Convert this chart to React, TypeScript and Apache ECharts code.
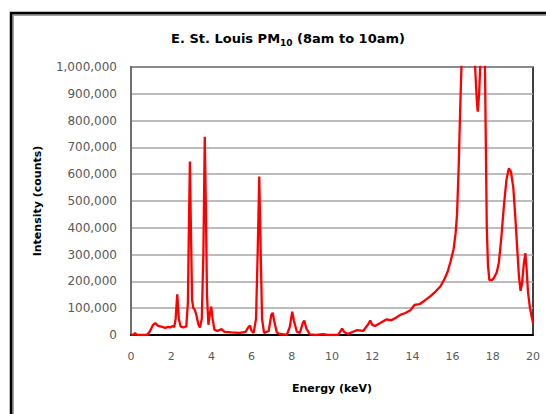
import React, { useEffect, useRef } from "react";
import * as echarts from "echarts";

const energyKeV = [
  0, 0.15, 0.2, 0.25, 0.35, 0.8, 0.95, 1.1, 1.2, 1.35, 1.55, 1.7, 1.85, 1.95, 2.05, 2.15,
  2.22, 2.3, 2.38, 2.47, 2.6, 2.75, 2.83, 2.88, 2.93, 2.98, 3.04, 3.1, 3.17, 3.25, 3.35, 3.43,
  3.52, 3.6, 3.67, 3.72, 3.78, 3.85, 3.93, 3.99, 4.06, 4.15, 4.3, 4.5, 4.65, 5.0, 5.4, 5.7,
  5.85, 5.92, 6.0, 6.1, 6.22, 6.3, 6.38, 6.45, 6.52, 6.62, 6.85, 6.98, 7.05, 7.13, 7.25, 7.35,
  7.75, 7.9, 8.02, 8.1, 8.25, 8.4, 8.55, 8.62, 8.72, 8.9, 9.2, 9.55, 9.8, 10.3, 10.5, 10.62,
  10.8, 11.05, 11.25, 11.55, 11.8, 11.9, 12.0, 12.14, 12.4, 12.7, 12.95, 13.2, 13.4, 13.65, 13.9, 14.1,
  14.35, 14.6, 14.9, 15.15, 15.4, 15.6, 15.75, 15.9, 16.05, 16.15, 16.22, 16.3, 16.38, 16.46, 16.6, 16.8,
  17.0, 17.12, 17.2, 17.25, 17.32, 17.4, 17.5, 17.58, 17.64, 17.7, 17.76, 17.83, 17.95, 18.05, 18.2, 18.3,
  18.42, 18.55, 18.68, 18.8, 18.9, 19.02, 19.12, 19.2, 19.3, 19.38, 19.45, 19.55, 19.62, 19.68, 19.75, 19.85,
  19.93, 20.0,
];

const intensityCounts = [
  0, 2000, 8000, 2000, 0, 0, 15000, 38000, 44000, 34000, 30000, 27000, 30000, 28000, 33000, 30000,
  60000, 152000, 60000, 32000, 28000, 32000, 120000, 400000, 647000, 400000, 130000, 100000, 95000, 75000, 40000, 28000,
  60000, 300000, 740000, 500000, 150000, 38000, 80000, 106000, 60000, 20000, 15000, 22000, 12000, 10000, 8000, 12000,
  30000, 35000, 15000, 8000, 60000, 300000, 591000, 320000, 60000, 8000, 15000, 75000, 83000, 50000, 10000, 5000,
  0, 30000, 87000, 55000, 12000, 8000, 45000, 54000, 25000, 2000, 0, 3000, 0, 0, 24000, 10000,
  4000, 12000, 18000, 15000, 40000, 54000, 38000, 34000, 45000, 58000, 55000, 65000, 75000, 82000, 92000, 112000,
  115000, 128000, 145000, 162000, 182000, 210000, 235000, 275000, 320000, 380000, 450000, 620000, 850000, 1050000, 1500000, 1900000,
  1500000, 1000000, 880000, 833000, 900000, 1050000, 1500000, 1200000, 800000, 404000, 260000, 205000, 205000, 212000, 235000, 270000,
  360000, 480000, 580000, 622000, 610000, 550000, 440000, 340000, 220000, 165000, 190000, 270000, 305000, 250000, 160000, 100000,
  70000, 45000,
];

const xTicks = [0, 2, 4, 6, 8, 10, 12, 14, 16, 18, 20];
const yTicks = [0, 100000, 200000, 300000, 400000, 500000, 600000, 700000, 800000, 900000, 1000000];

const titleMain = "E. St. Louis PM";
const titleSub = "10";
const titleTail = " (8am to 10am)";
const xName = "Energy (keV)";
const yName = "Intensity (counts)";

export default function App() {
  const ref = useRef<HTMLDivElement>(null);
  useEffect(() => {
    if (!ref.current) return;
    const chart = echarts.init(ref.current, null, { renderer: "svg" });
    const fmt = (v: number) => v.toLocaleString("en-US");
    chart.setOption({
      animation: false,
      backgroundColor: "#ffffff",
      title: {
        text: `{a|${titleMain}}{s|${titleSub}}{a|${titleTail}}`,
        left: 283,
        top: 25,
        textAlign: "center",
        textStyle: {
          rich: {
            a: { fontFamily: "DejaVu Sans", fontWeight: "bold", fontSize: 13, color: "#000" },
            s: { fontFamily: "DejaVu Sans", fontWeight: "bold", fontSize: 9, color: "#000", padding: [8, 0, 0, 0] },
          },
        },
      },
      graphic: [
        { type: "rect", shape: { x: 13, y: 15, width: 600, height: 500 }, style: { fill: "none", stroke: "#a0a0a0", lineWidth: 2 }, silent: true },
        { type: "rect", shape: { x: 11, y: 13, width: 600, height: 500 }, style: { fill: "none", stroke: "#000", lineWidth: 2.5 }, silent: true },
      ],
      grid: {
        left: 131,
        top: 67,
        width: 402,
        height: 268,
        show: true,
        borderColor: "#000",
        borderWidth: 1.5,
        backgroundColor: "transparent",
      },
      xAxis: {
        type: "value",
        min: 0,
        max: 20,
        interval: 2,
        name: xName,
        nameLocation: "middle",
        nameGap: 48,
        nameTextStyle: { fontFamily: "DejaVu Sans", fontWeight: "bold", fontSize: 11, color: "#000" },
        axisLine: { show: true, lineStyle: { color: "#000", width: 2 } },
        axisTick: { show: false },
        splitLine: { show: false },
        axisLabel: {
          margin: 16,
          fontFamily: "DejaVu Sans",
          fontSize: 11,
          color: "#595959",
          formatter: (v: number) => (xTicks.includes(v) ? String(v) : ""),
        },
      },
      yAxis: {
        type: "value",
        min: 0,
        max: 1000000,
        interval: 100000,
        name: yName,
        nameLocation: "middle",
        nameGap: 88,
        nameTextStyle: { fontFamily: "DejaVu Sans", fontWeight: "bold", fontSize: 11, color: "#000" },
        axisLine: { show: true, lineStyle: { color: "#707070", width: 2 } },
        axisTick: { show: false },
        splitLine: { show: true, lineStyle: { color: "#a6a6a6", width: 1.5 } },
        axisLabel: {
          margin: 14,
          fontFamily: "DejaVu Sans",
          fontSize: 12,
          color: "#595959",
          formatter: (v: number) => (yTicks.includes(v) ? fmt(v) : ""),
        },
      },
      series: [
        {
          type: "line",
          data: energyKeV.map((e, i) => [e, intensityCounts[i]]),
          showSymbol: false,
          clip: true,
          lineStyle: { color: "#ff0000", width: 2.3 },
          itemStyle: { color: "#ff0000" },
        },
      ],
    });
    return () => chart.dispose();
  }, []);
  return (
    <div
      ref={ref}
      style={{ position: "fixed", left: 0, top: 0, width: 546, height: 414 }}
    />
  );
}
